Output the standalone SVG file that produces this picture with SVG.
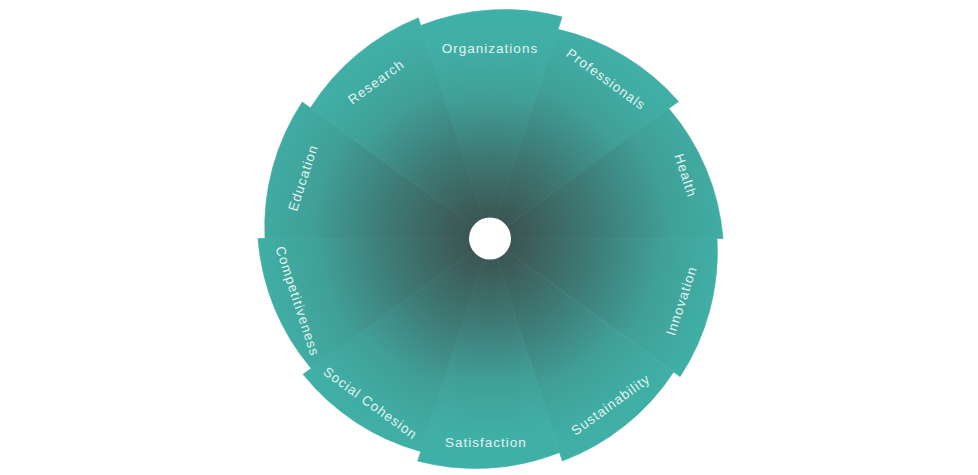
<svg xmlns="http://www.w3.org/2000/svg" width="978" height="475" viewBox="0 0 978 475">
  <style>
    .lbl { font-family: "Liberation Sans", Arial, sans-serif; font-size: 13.5px; letter-spacing: 1px; fill: #e2f4f1; text-anchor: middle; }
    .w { stroke-width: 0.7; stroke-linejoin: round; }
  </style>
  <defs>
    <radialGradient id="gH" gradientUnits="userSpaceOnUse" cx="490" cy="238.5" r="300">
      <stop offset="0" stop-color="#3a504e"/>
      <stop offset="0.12" stop-color="#3c5b58"/>
      <stop offset="0.35" stop-color="#3e7a75"/>
      <stop offset="0.6" stop-color="#40a098"/>
      <stop offset="0.8" stop-color="#40aea5"/>
      <stop offset="1" stop-color="#3fb1a8"/>
    </radialGradient>
    <radialGradient id="gM" href="#gH" gradientUnits="userSpaceOnUse" cx="490" cy="238.5" r="265"/>
    <radialGradient id="gV" href="#gH" gradientUnits="userSpaceOnUse" cx="490" cy="238.5" r="240"/>
    <radialGradient id="gL" href="#gH" gradientUnits="userSpaceOnUse" cx="490" cy="238.5" r="285"/>
  </defs>

  <g id="organizations">
    <path class="w" d="M490,238.5 L420.8,25.5 A228,228 0 0 1 562,16.9 Z" fill="url(#gV)" stroke="url(#gV)"/>
    <text class="lbl" x="490" y="52.5">Organizations</text>
  </g>
  <g id="professionals">
    <path class="w" d="M490,238.5 L558,29.3 A228,228 0 0 1 678.5,101.5 Z" fill="url(#gM)" stroke="url(#gM)"/>
    <text class="lbl" transform="translate(603.4,82.9) rotate(36)">Professionals</text>
  </g>
  <g id="health">
    <path class="w" d="M490,238.5 L668.8,108.6 A228,228 0 0 1 723,238.5 Z" fill="url(#gH)" stroke="url(#gH)"/>
    <text class="lbl" transform="translate(681.2,176.9) rotate(72)">Health</text>
  </g>
  <g id="innovation">
    <path class="w" d="M490,238.5 L717,238.5 A228,228 0 0 1 680.1,376.6 Z" fill="url(#gL)" stroke="url(#gL)"/>
    <text class="lbl" transform="translate(685.9,302.2) rotate(-72)">Innovation</text>
  </g>
  <g id="sustainability">
    <path class="w" d="M490,238.5 L673.6,371.9 A228,228 0 0 1 562.3,461 Z" fill="url(#gM)" stroke="url(#gM)"/>
    <text class="lbl" transform="translate(613.4,408.4) rotate(-36)">Sustainability</text>
  </g>
  <g id="satisfaction">
    <path class="w" d="M490,238.5 L559.5,452.5 A228,228 0 0 1 417.7,461 Z" fill="url(#gV)" stroke="url(#gV)"/>
    <text class="lbl" x="486" y="447">Satisfaction</text>
  </g>
  <g id="social-cohesion">
    <path class="w" d="M490,238.5 L420.8,451.5 A228,228 0 0 1 303.1,374.3 Z" fill="url(#gM)" stroke="url(#gM)"/>
    <text class="lbl" transform="translate(367.7,406.8) rotate(36)">Social Cohesion</text>
  </g>
  <g id="competitiveness">
    <path class="w" d="M490,238.5 L311.2,368.4 A228,228 0 0 1 258,238.5 Z" fill="url(#gL)" stroke="url(#gL)"/>
    <text class="lbl" transform="translate(293.1,302.5) rotate(72)">Competitiveness</text>
  </g>
  <g id="education">
    <path class="w" d="M490,238.5 L265,238.5 A228,228 0 0 1 302.3,102.1 Z" fill="url(#gH)" stroke="url(#gH)"/>
    <text class="lbl" transform="translate(307.4,179.2) rotate(-72)">Education</text>
  </g>
  <g id="research">
    <path class="w" d="M490,238.5 L310.4,108 A228,228 0 0 1 418.3,17.9 Z" fill="url(#gM)" stroke="url(#gM)"/>
    <text class="lbl" transform="translate(378.9,85.6) rotate(-36)">Research</text>
  </g>

  <g id="connectors"/>

  <g id="hub">
    <circle cx="490" cy="238.5" r="21" fill="#ffffff"/>
  </g>
</svg>
